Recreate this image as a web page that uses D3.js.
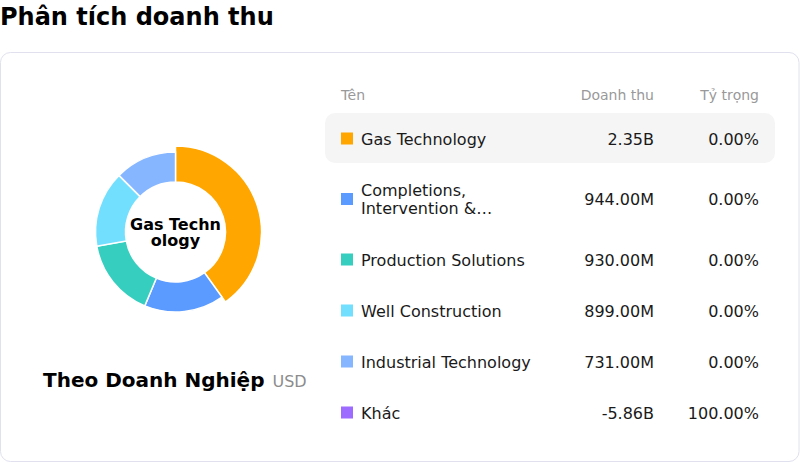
<!DOCTYPE html>
<html>
<head>
<meta charset="utf-8">
<script src="https://cdn.jsdelivr.net/npm/d3@7"></script>
<style>
  body { margin: 0; background: #fff; }
  svg text { font-family: "DejaVu Sans", Verdana, sans-serif; }
</style>
</head>
<body>
<div id="chart"></div>
<script>
// data
const names = ['Gas Technology', 'Completions, Intervention &…', 'Production Solutions', 'Well Construction', 'Industrial Technology', 'Khác'];
const revenue = [2350, 944, 930, 899, 731, -5860]; // millions USD
const revenueLabels = ['2.35B', '944.00M', '930.00M', '899.00M', '731.00M', '-5.86B'];
const shareLabels = ['0.00%', '0.00%', '0.00%', '0.00%', '0.00%', '100.00%'];
const colors = ['#ffa600', '#5b9bff', '#36cfbf', '#73dfff', '#85b6ff', '#9d6bff'];
const headers = ['Tên', 'Doanh thu', 'Tỷ trọng'];

const width = 800, height = 463;

const svg = d3.select('#chart')
  .append('svg')
  .attr('width', width)
  .attr('height', height);

svg.append('text')
  .attr('x', 0)
  .attr('y', 25)
  .style('font-size', '24px')
  .style('font-weight', 'bold')
  .style('fill', '#000')
  .text('Phân tích doanh thu');

svg.append('rect')
  .attr('x', 0.5).attr('y', 52.5)
  .attr('width', width - 1.5).attr('height', 409)
  .attr('rx', 10)
  .style('fill', '#fff')
  .style('stroke', '#e0e0ee');

// donut (only positive segments)
const slices = names.map((n, i) => ({name: n, value: revenue[i], color: colors[i]}))
  .filter(d => d.value > 0);

const pie = d3.pie().sort(null).value(d => d.value);
const arc = d3.arc().innerRadius(50).outerRadius(80);
const arcActive = d3.arc().innerRadius(50).outerRadius(86);

const donut = svg.append('g').attr('transform', 'translate(175.5,232)');

donut.selectAll('path')
  .data(pie(slices))
  .enter()
  .append('path')
  .attr('d', (d, i) => i == 0 ? arcActive(d) : arc(d))
  .style('fill', d => d.data.color)
  .style('stroke', '#fff')
  .style('stroke-width', 1.5);

const centerText = donut.append('text')
  .attr('text-anchor', 'middle')
  .style('font-size', '16px')
  .style('font-weight', 'bold')
  .style('fill', '#000');
centerText.append('tspan').attr('x', 0).attr('y', -2).text('Gas Techn');
centerText.append('tspan').attr('x', 0).attr('y', 14).text('ology');

const sub = svg.append('text')
  .attr('x', 43)
  .attr('y', 387);
sub.append('tspan')
  .style('font-size', '20px')
  .style('font-weight', 'bold')
  .style('fill', '#000')
  .text('Theo Doanh Nghiệp');
sub.append('tspan')
  .attr('dx', 8)
  .style('font-size', '16px')
  .style('fill', '#8c8c8c')
  .text('USD');

// table
const colName = 341, colRev = 654, colShare = 759;
const lineCount = names.map((d, i) => i == 1 ? 2 : 1);
const rowH = lineCount.map(n => 51 + (n - 1) * 19);
const rowTop = [];
lineCount.reduce((acc, n, i) => { rowTop[i] = acc; return acc + rowH[i]; }, 113);
const rowY = i => rowTop[i] + rowH[i] / 2;

const head = svg.append('g').style('font-size', '14px').style('fill', '#999');
head.append('text').attr('x', colName).attr('y', 100).text(headers[0]);
head.append('text').attr('x', colRev).attr('y', 100).attr('text-anchor', 'end').text(headers[1]);
head.append('text').attr('x', colShare).attr('y', 100).attr('text-anchor', 'end').text(headers[2]);

svg.append('rect')
  .attr('x', 325).attr('y', rowTop[0])
  .attr('width', 450).attr('height', rowH[0] - 1)
  .attr('rx', 10)
  .style('fill', '#f5f5f5');

const rows = svg.selectAll('.row')
  .data(names)
  .enter()
  .append('g')
  .attr('class', 'row')
  .attr('transform', (d, i) => 'translate(0,' + rowY(i) + ')')
  .style('font-size', '16px')
  .style('fill', '#1a1a1a');

rows.append('rect')
  .attr('x', colName).attr('y', -6)
  .attr('width', 12).attr('height', 12)
  .style('fill', (d, i) => colors[i]);

rows.append('text')
  .attr('x', 361)
  .attr('y', 6)
  .each(function(d, i) {
    const t = d3.select(this);
    if (i == 1) {
      t.append('tspan').attr('x', 361).attr('y', -3.5).text('Completions,');
      t.append('tspan').attr('x', 361).attr('y', 14.5).text('Intervention &…');
    } else {
      t.text(d);
    }
  });

rows.append('text')
  .attr('x', colRev).attr('y', 6)
  .attr('text-anchor', 'end')
  .text((d, i) => revenueLabels[i]);

rows.append('text')
  .attr('x', colShare).attr('y', 6)
  .attr('text-anchor', 'end')
  .text((d, i) => shareLabels[i]);
</script>
</body>
</html>
